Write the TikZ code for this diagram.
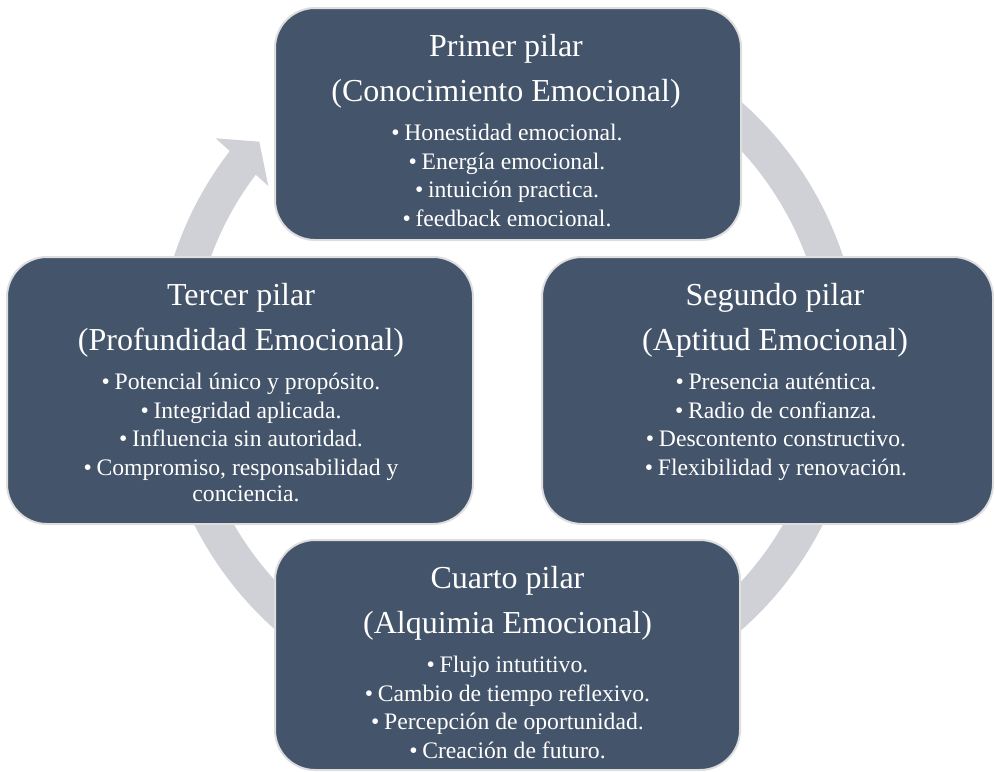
\documentclass[tikz,border=0pt]{standalone}
\usepackage{fontspec}
\setmainfont{Liberation Serif}
\usetikzlibrary{calc}
\definecolor{boxblue}{HTML}{44546A}
\definecolor{ringgray}{HTML}{CFD1D6}
\definecolor{boxline}{HTML}{DEDEDE}
\newcommand\pbul{\textbullet\hspace{0.2em}}
\begin{document}
\begin{tikzpicture}[x=0.75pt,y=-0.75pt,
  pbox/.style={draw=boxline, line width=1.5pt, fill=boxblue, rounded corners=30pt, inner sep=0pt, minimum width=349.5pt},
  ttl/.style={text=white, anchor=base, inner sep=0pt, font=\fontsize{24pt}{28pt}\selectfont},
  itm/.style={text=white, anchor=base, inner sep=0pt, font=\fontsize{17.75pt}{21pt}\selectfont},
  ringarc/.style={draw=ringgray, line width=26.25pt},
]
\useasboundingbox (0,0) rectangle (995,771);
% circular arrow behind the boxes
\coordinate (c) at (508.5,366);
\draw[ringarc] ($(c)+(-120:334.5)$) arc[start angle=-120,end angle=218,radius=334.5];
\coordinate (hbo) at (215.7,138.3);
\coordinate (htip) at (259.3,141.7);
\coordinate (hbi) at (268.3,186);
\fill[ringgray] (hbo) -- (htip) -- (hbi) -- cycle;
% boxes
\node[pbox, minimum height=174pt] (p1) at (508,124) {};
\node[pbox, minimum height=200.25pt] (p3) at (240,390.5) {};
\node[pbox, minimum width=338.25pt, minimum height=200.25pt] (p2) at (767.5,390.5) {};
\node[pbox, minimum width=348.75pt, minimum height=172.5pt] (p4) at (507.5,655) {};
% top box
\node[ttl] (p1t) at (506,56) {Primer pilar};
\node[ttl] (p1s) at (506,101) {(Conocimiento Emocional)};
\node[itm] (p1a) at (507,140.5) {\pbul Honestidad emocional.};
\node[itm] (p1b) at (507,169) {\pbul Energía emocional.};
\node[itm] (p1c) at (507,197.5) {\pbul intuición practica.};
\node[itm] (p1d) at (507,226) {\pbul feedback emocional.};
% left box
\node[ttl] (p3t) at (241,305) {Tercer pilar};
\node[ttl] (p3s) at (241,350) {(Profundidad Emocional)};
\node[itm] (p3a) at (241,389.5) {\pbul Potencial único y propósito.};
\node[itm] (p3b) at (241,418) {\pbul Integridad aplicada.};
\node[itm] (p3c) at (241,446.5) {\pbul Influencia sin autoridad.};
\node[itm] (p3d) at (241,475) {\pbul Compromiso, responsabilidad y};
\node[itm] (p3e) at (246,501.5) {conciencia.};
% right box
\node[ttl] (p2t) at (775,305) {Segundo pilar};
\node[ttl] (p2s) at (775,350) {(Aptitud Emocional)};
\node[itm] (p2a) at (776,389.5) {\pbul Presencia auténtica.};
\node[itm] (p2b) at (776,418) {\pbul Radio de confianza.};
\node[itm] (p2c) at (776,446.5) {\pbul Descontento constructivo.};
\node[itm] (p2d) at (776,475) {\pbul Flexibilidad y renovación.};
% bottom box
\node[ttl] (p4t) at (507.5,588) {Cuarto pilar};
\node[ttl] (p4s) at (507.5,633) {(Alquimia Emocional)};
\node[itm] (p4a) at (507.5,672.5) {\pbul Flujo intutitivo.};
\node[itm] (p4b) at (507.5,701) {\pbul Cambio de tiempo reflexivo.};
\node[itm] (p4c) at (507.5,729.5) {\pbul Percepción de oportunidad.};
\node[itm] (p4d) at (507.5,758) {\pbul Creación de futuro.};
\end{tikzpicture}
\end{document}
